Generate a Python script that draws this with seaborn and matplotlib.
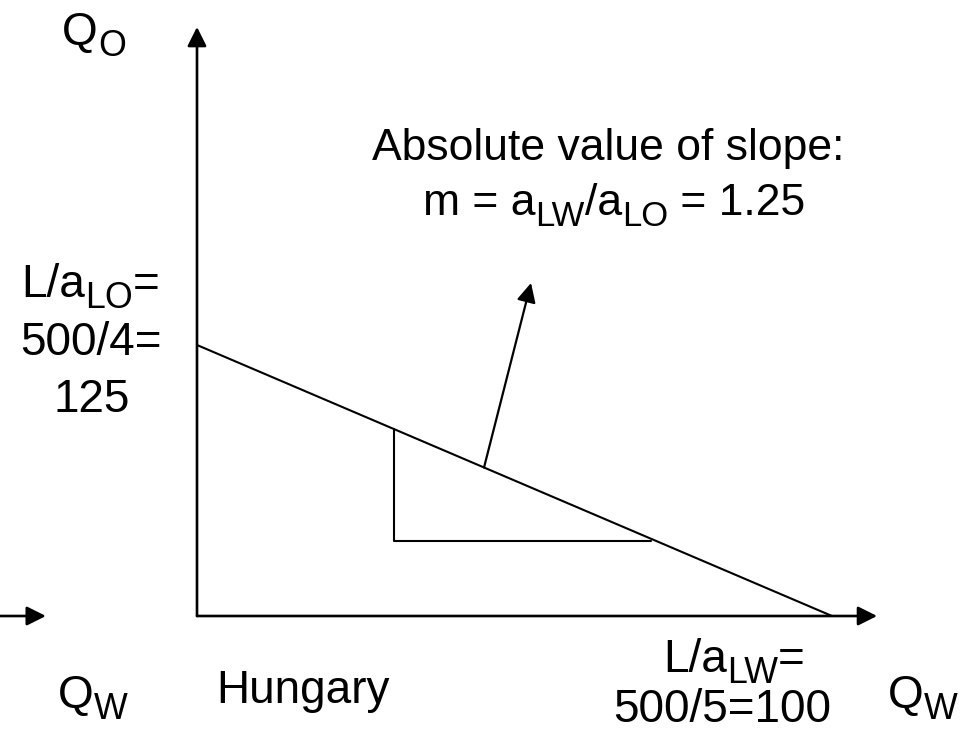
import numpy as np
import pandas as pd
import seaborn as sns
import matplotlib.pyplot as plt

# Hungary: labour L = 500, a_LO = 4, a_LW = 5
labour = 500
a_lo = 4
a_lw = 5
qo_max = labour / a_lo          # 125
qw_max = labour / a_lw          # 100
slope = a_lw / a_lo             # 1.25

# production possibility frontier
ppf = pd.DataFrame({"qw": [0, qw_max], "qo": [qo_max, 0]})

# slope triangle under the line
tri_x0, tri_x1 = 31.0, 71.5
tri_y0 = 34.6
tri = pd.DataFrame({"qw": [tri_x0, tri_x0, tri_x1],
                    "qo": [qo_max - slope * tri_x0, tri_y0, tri_y0]})

# axis extents and the pointer to the slope note
qw_axis_end = 107.1
qo_axis_end = 271.7
left_arrow = (-31.0, -23.8)
pointer_start = (45.2, qo_max - slope * 45.2)
pointer_end = (52.6, 153.6)

W, H = 967, 734
sns.set_theme(style="white")
plt.rcParams['font.family'] = ['Liberation Sans', 'DejaVu Sans']

fig = plt.figure(figsize=(W / 100, H / 100), dpi=100)
ax = fig.add_axes([0, 0, 1, 1])
ax.set_xlim((0 - 197) / 6.35, (W - 197) / 6.35)
ax.set_ylim((616 - H) / 2.168, 616 / 2.168)
ax.axis('off')

sns.lineplot(data=ppf, x="qw", y="qo", color="black", lw=1.5, ax=ax,
             sort=False, estimator=None)
sns.lineplot(data=tri, x="qw", y="qo", color="black", lw=1.5, ax=ax,
             sort=False, estimator=None)

arrow = dict(arrowstyle='-|>,head_length=0.4,head_width=0.2', color='black',
             mutation_scale=29, shrinkA=0, shrinkB=0)
ax.annotate('', xy=(qw_axis_end, 0), xytext=(0, 0), arrowprops=dict(arrow, lw=1.9))
ax.annotate('', xy=(0, qo_axis_end), xytext=(0, 0), arrowprops=dict(arrow, lw=1.9))
ax.annotate('', xy=(left_arrow[1], 0), xytext=(left_arrow[0], 0), arrowprops=dict(arrow, lw=1.9))
ax.annotate('', xy=pointer_end, xytext=pointer_start, arrowprops=dict(arrow, lw=1.6))

renderer = fig.canvas.get_renderer()


def put(px, py, parts, ha='left', size=33):
    # parts: list of (text, is_subscript); positions in image pixels, baseline at py
    if isinstance(parts, str):
        parts = [(parts, False)]
    size_px = size * 100 / 72
    pieces = []
    x = 0
    for s, sub in parts:
        fs = size * 0.78 if sub else size
        drop = 0.24 * size_px if sub else 0
        t = fig.text(0, 0, s, fontsize=fs, va='baseline', ha='left', color='black')
        w = t.get_window_extent(renderer).width
        pieces.append((t, x, drop))
        x += w
    x0 = px - x / 2 if ha == 'center' else px
    for t, off, drop in pieces:
        t.set_position(((x0 + off) / W, 1 - (py + drop) / H))


put(62, 45, [('Q', False), ('O', True)])
put(608, 160, 'Absolute value of slope:', ha='center', size=32)
put(614, 215, [('m = a', False), ('LW', True), ('/a', False), ('LO', True),
               (' = 1.25', False)], ha='center', size=32)
put(90, 297, [('L/a', False), ('LO', True), ('=', False)], ha='center')
put(91, 355, '500/4=', ha='center')
put(92, 412, '125', ha='center')
put(58, 708, [('Q', False), ('W', True)])
put(216, 703, 'Hungary')
put(734, 672, [('L/a', False), ('LW', True), ('=', False)], ha='center')
put(722, 722, '500/5=100', ha='center')
put(888, 708, [('Q', False), ('W', True)])

fig.savefig('out.png', dpi=100)
